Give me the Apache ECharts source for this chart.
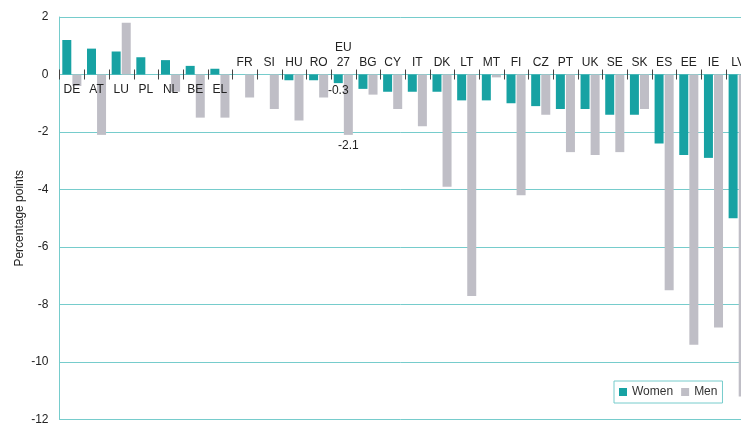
<!DOCTYPE html>
<html>
<head>
<meta charset="utf-8">
<script src="https://cdn.jsdelivr.net/npm/echarts@6/dist/echarts.min.js"></script>
<style>html,body{margin:0;padding:0;background:#fff}#c{width:741px;height:423px}</style>
</head>
<body>
<div id="c"></div>
<script>
var categories = ['DE','AT','LU','PL','NL','BE','EL','FR','SI','HU','RO','EU\n27','BG','CY','IT','DK','LT','MT','FI','CZ','PT','UK','SE','SK','ES','EE','IE','LV'];
var women = [1.2, 0.9, 0.8, 0.6, 0.5, 0.3, 0.2, 0, 0, -0.2, -0.2, -0.3, -0.5, -0.6, -0.6, -0.6, -0.9, -0.9, -1.0, -1.1, -1.2, -1.2, -1.4, -1.4, -2.4, -2.8, -2.9, -5.0];
var men = [-0.4, -2.1, 1.8, 0, -0.6, -1.5, -1.5, -0.8, -1.2, -1.6, -0.8, -2.1, -0.7, -1.2, -1.8, -3.9, -7.7, -0.1, -4.2, -1.4, -2.7, -2.8, -2.7, -1.2, -7.5, -9.4, -8.8, -11.2];
var yTicks = [2, 0, -2, -4, -6, -8, -10, -12];
var labelledCategory = 'EU\n27';

var FONT = '"Liberation Sans", Arial, sans-serif';
var TEAL = '#17a2a3';
var GREY = '#bfbec6';
var LINE = '#76cccc';

function below(i){ return women[i] > 0; }

var womenData = women.map(function(v, i){
  if (categories[i] === labelledCategory) {
    return {value: v, label: {show: true, position: 'bottom', distance: 2, formatter: function(p){return p.value.toFixed(1);}}};
  }
  return v;
});
var menData = men.map(function(v, i){
  if (categories[i] === labelledCategory) {
    return {value: v, label: {show: true, position: 'bottom', distance: 5, formatter: function(p){return p.value.toFixed(1);}}};
  }
  return v;
});

var chart = echarts.init(document.getElementById('c'));
chart.setOption({
  animation: false,
  textStyle: {fontFamily: FONT},
  grid: {left: 59.5, top: 17, width: 691, height: 402.5, containLabel: false, outerBoundsMode: 'none'},
  legend: {
    left: 614, top: 381,
    data: ['Women', 'Men'],
    icon: 'rect', itemWidth: 8, itemHeight: 8, itemGap: 8,
    borderColor: LINE, borderWidth: 1, padding: [5, 5],
    textStyle: {fontFamily: FONT, fontSize: 12, color: '#333'}
  },
  xAxis: {
    type: 'category', data: categories,
    axisLine: {onZero: true, lineStyle: {color: LINE, width: 1}},
    axisTick: {show: false},
    axisLabel: {show: false},
    splitLine: {show: false}
  },
  yAxis: {
    type: 'value', min: -12, max: 2, interval: 2,
    name: 'Percentage points', nameLocation: 'middle', nameGap: 34, nameMoveOverlap: false,
    nameTextStyle: {fontFamily: FONT, fontSize: 12, color: '#222'},
    axisLine: {show: true, lineStyle: {color: LINE, width: 1}},
    axisTick: {show: false},
    axisLabel: {margin: 11, fontFamily: FONT, fontSize: 12, color: '#222'},
    splitLine: {show: true, lineStyle: {color: LINE, width: 1}}
  },
  series: [
    {
      name: 'Women', type: 'bar', data: womenData,
      barWidth: 9, barGap: '12%', itemStyle: {color: TEAL},
      label: {fontFamily: FONT, fontSize: 12, color: '#222'}
    },
    {
      name: 'Men', type: 'bar', data: menData,
      barWidth: 9, barGap: '12%', itemStyle: {color: GREY},
      label: {fontFamily: FONT, fontSize: 12, color: '#222'}
    },
    {
      name: 'categoryLabels', type: 'custom', silent: true, z: 5, clip: false,
      data: categories.map(function(c, i){ return [i, 0]; }),
      renderItem: function(params, api){
        var i = api.value(0);
        var p = api.coord([i, 0]);
        var w = api.size([1, 0])[0];
        var x0 = Math.round(p[0] - w / 2) + 0.5;
        var isBelow = below(i);
        return {
          type: 'group',
          children: [
            {type: 'line', shape: {x1: x0, y1: p[1] - 5, x2: x0, y2: p[1] + 5}, style: {stroke: '#444', lineWidth: 1}},
            {type: 'text', style: {
              text: categories[i], x: p[0], y: isBelow ? p[1] + 8 : p[1] - 4,
              align: 'center', verticalAlign: isBelow ? 'top' : 'bottom',
              font: '12px ' + FONT, fill: '#222', lineHeight: 15
            }}
          ]
        };
      }
    }
  ]
});
</script>
</body>
</html>
